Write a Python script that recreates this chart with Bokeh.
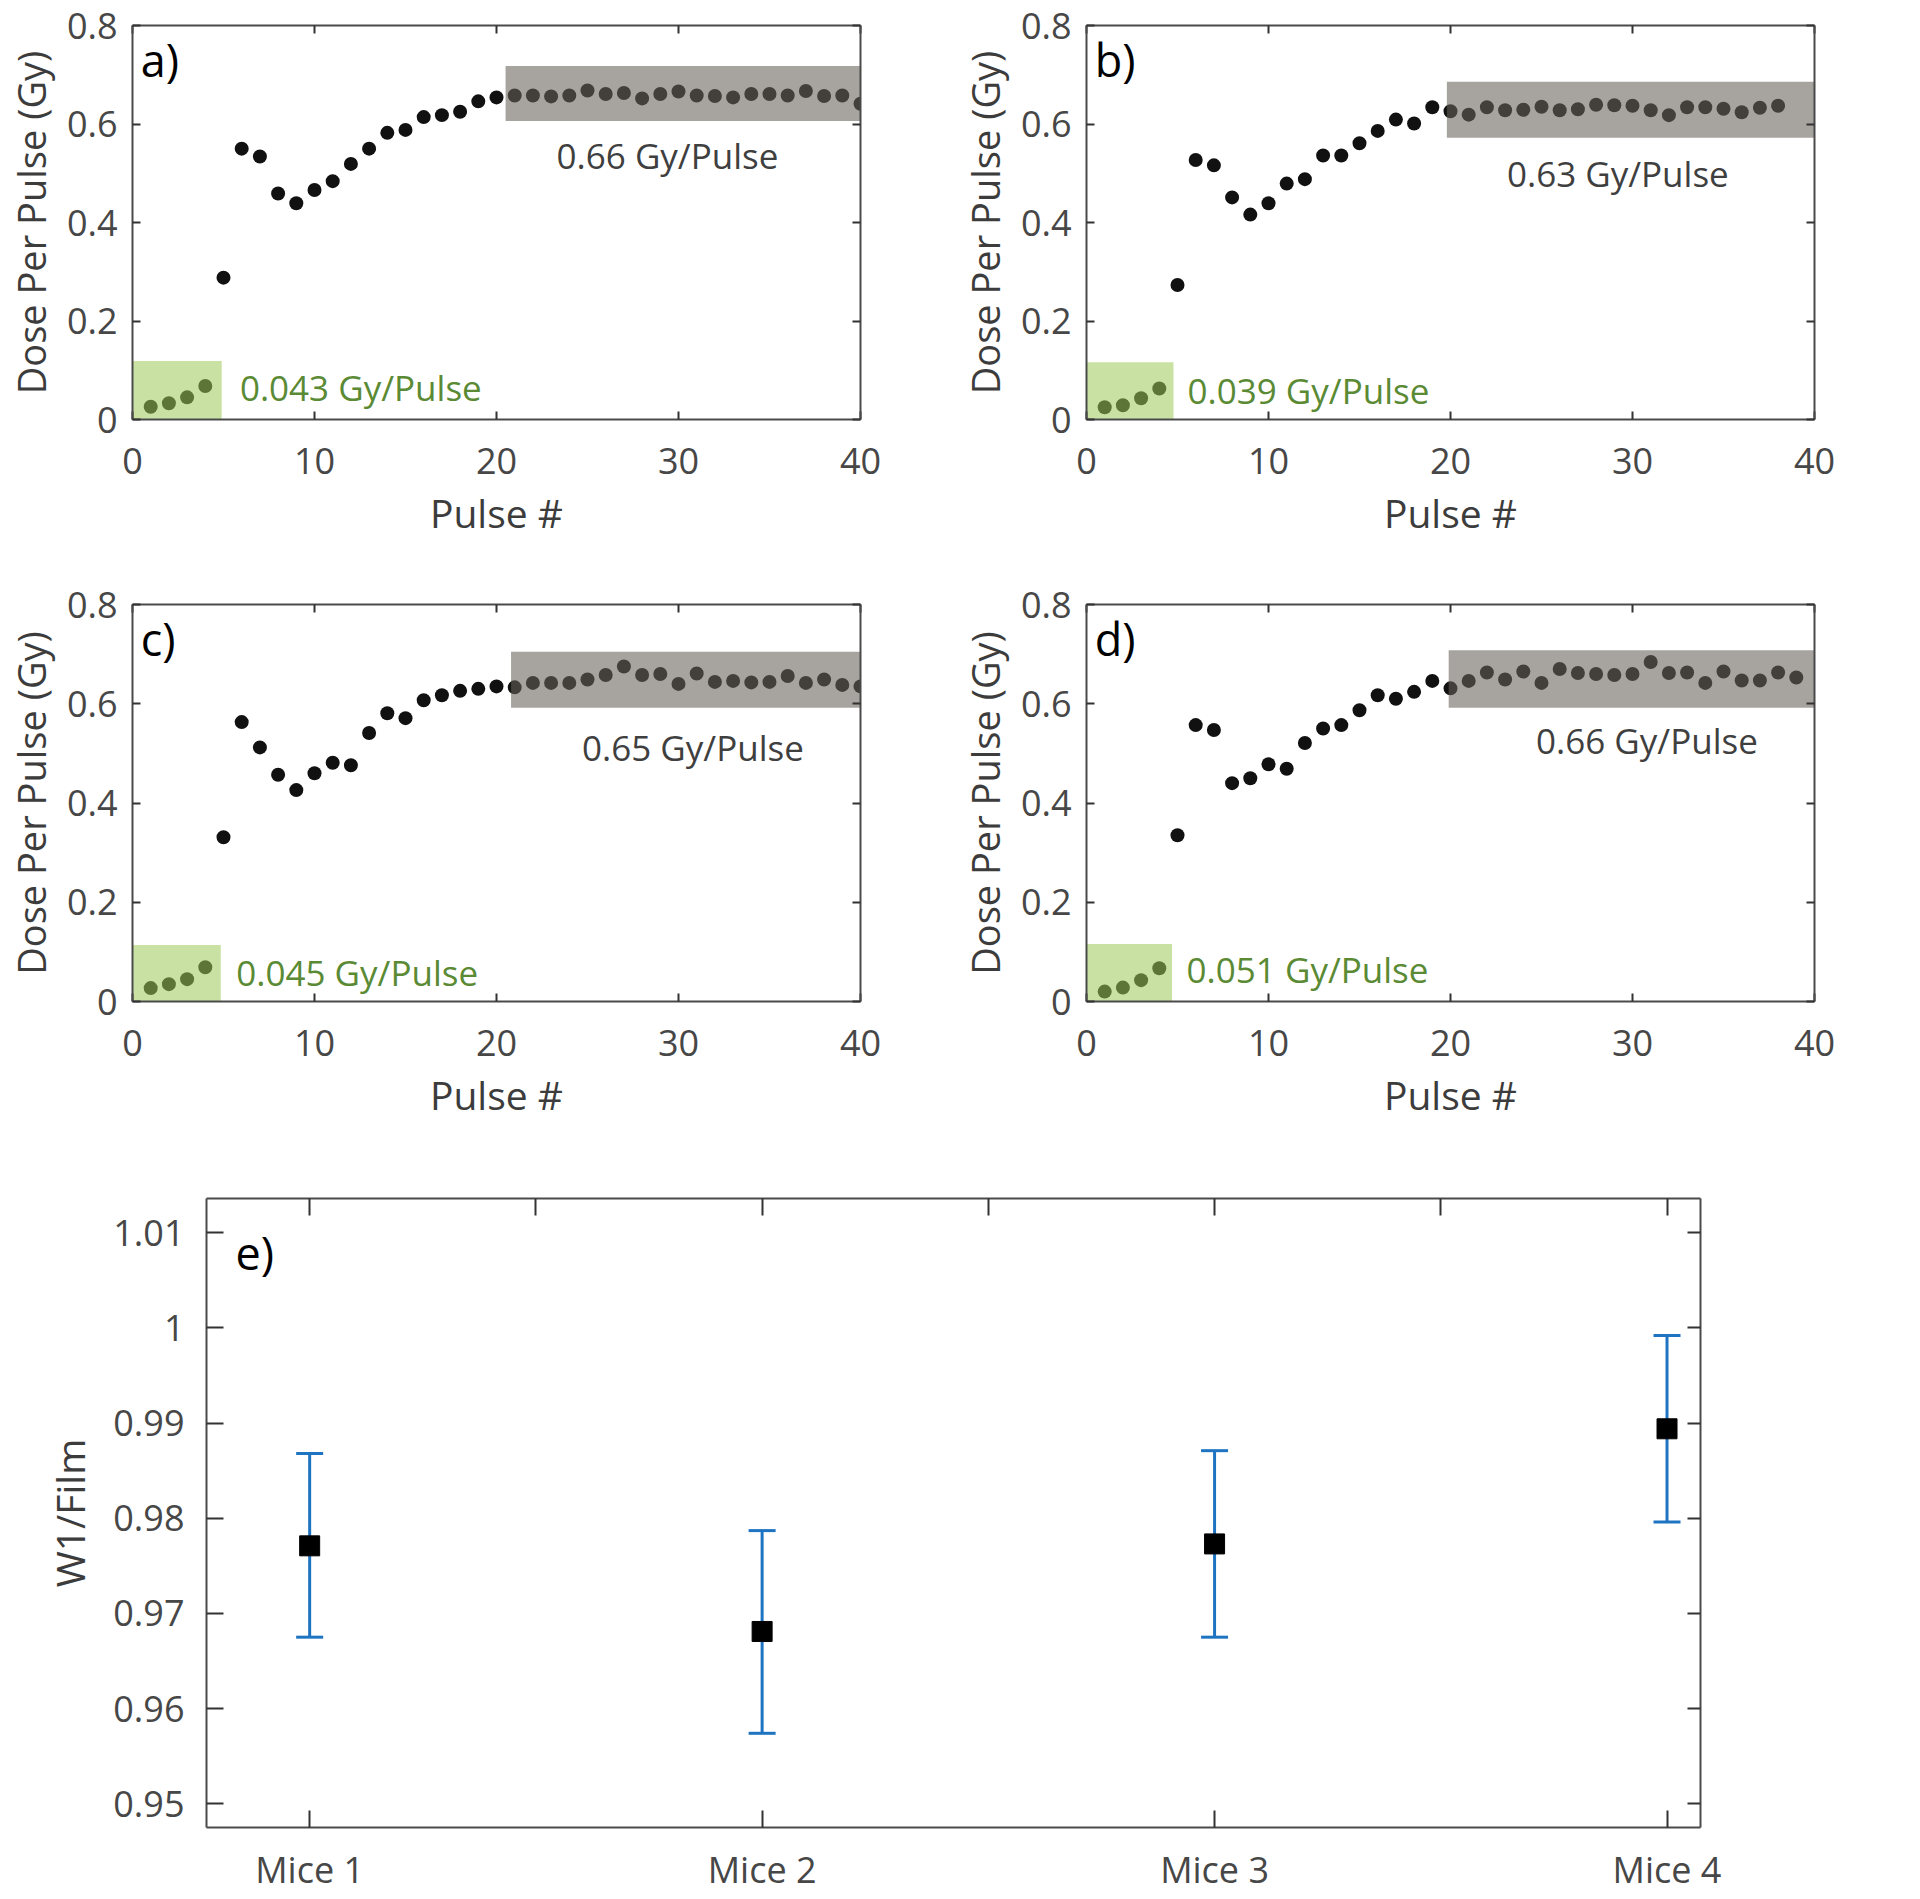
from bokeh.plotting import figure
from bokeh.layouts import column, row
from bokeh.models import (LinearAxis, FixedTicker, CustomJSTickFormatter, Range1d,
                          ColumnDataSource, Whisker, TeeHead, Label)
from bokeh.embed import file_html
from bokeh.resources import INLINE

FONT = "Open Sans"

# ---------------- data ----------------
dose_a = [0.026, 0.033, 0.045, 0.068, 0.288, 0.550, 0.534, 0.459, 0.439, 0.466,
          0.484, 0.519, 0.550, 0.582, 0.588, 0.614, 0.618, 0.625, 0.646, 0.654,
          0.658, 0.658, 0.656, 0.658, 0.668, 0.661, 0.663, 0.652, 0.661, 0.666,
          0.658, 0.657, 0.654, 0.661, 0.661, 0.658, 0.667, 0.657, 0.658, 0.641]
dose_b = [0.025, 0.029, 0.043, 0.063, 0.273, 0.527, 0.516, 0.451, 0.416, 0.439,
          0.479, 0.488, 0.536, 0.536, 0.561, 0.586, 0.609, 0.601, 0.634, 0.626,
          0.619, 0.634, 0.628, 0.629, 0.635, 0.628, 0.630, 0.639, 0.638, 0.637,
          0.628, 0.618, 0.634, 0.634, 0.631, 0.624, 0.633, 0.637]
dose_c = [0.027, 0.035, 0.045, 0.069, 0.331, 0.563, 0.512, 0.457, 0.426, 0.460,
          0.481, 0.476, 0.541, 0.581, 0.571, 0.607, 0.617, 0.626, 0.630, 0.635,
          0.633, 0.642, 0.642, 0.642, 0.649, 0.658, 0.675, 0.658, 0.660, 0.640,
          0.661, 0.644, 0.646, 0.643, 0.644, 0.656, 0.642, 0.649, 0.638, 0.635]
dose_d = [0.020, 0.028, 0.043, 0.067, 0.335, 0.557, 0.547, 0.440, 0.450, 0.478,
          0.469, 0.521, 0.550, 0.557, 0.587, 0.617, 0.610, 0.624, 0.646, 0.631,
          0.646, 0.663, 0.649, 0.665, 0.642, 0.670, 0.662, 0.660, 0.658, 0.660,
          0.684, 0.662, 0.663, 0.642, 0.665, 0.647, 0.647, 0.663, 0.653]

# highlighted regions: [x0, x1, y0, y1]
green_a = [0, 4.9, 0, 0.119]
gray_a = [20.5, 40, 0.606, 0.718]
green_b = [0, 4.78, 0, 0.116]
gray_b = [19.8, 40, 0.572, 0.686]
green_c = [0, 4.85, 0, 0.114]
gray_c = [20.8, 40, 0.592, 0.705]
green_d = [0, 4.7, 0, 0.116]
gray_d = [19.9, 40.1, 0.592, 0.708]

low_text = ["0.043 Gy/Pulse", "0.039 Gy/Pulse", "0.045 Gy/Pulse", "0.051 Gy/Pulse"]
high_text = ["0.66 Gy/Pulse", "0.63 Gy/Pulse", "0.65 Gy/Pulse", "0.66 Gy/Pulse"]
panel_tags = ["a)", "b)", "c)", "d)"]

x_ticks = [0, 10, 20, 30, 40]
y_ticks = [0, 0.2, 0.4, 0.6, 0.8]

mice = ["Mice 1", "Mice 2", "Mice 3", "Mice 4"]
ratio = [0.9771, 0.9681, 0.9773, 0.9894]
ratio_lo = [0.9675, 0.9574, 0.9675, 0.9796]
ratio_hi = [0.9868, 0.9787, 0.9871, 0.9992]
e_y_ticks = [0.95, 0.96, 0.97, 0.98, 0.99, 1.00, 1.01]

# ---------------- styling helpers ----------------
FMT = CustomJSTickFormatter(code="""
let s = tick.toFixed(2);
s = s.replace(/0+$/, '');
s = s.replace(/\\.$/, '');
return s;
""")
BLANK = CustomJSTickFormatter(code="return '';")

AX_COLOR = "#4a4a4a"
TXT_COLOR = "#474747"


def style_axis(ax, ticks, tick_in, labels=True, standoff=14, fmt=None):
    ax.ticker = FixedTicker(ticks=ticks)
    ax.axis_line_color = AX_COLOR
    ax.axis_line_width = 2
    ax.major_tick_line_color = "#333333"
    ax.major_tick_line_width = 2
    ax.major_tick_in = tick_in
    ax.major_tick_out = 0
    ax.minor_tick_line_color = None
    if labels:
        if fmt is not None:
            ax.formatter = fmt
        ax.major_label_text_font = FONT
        ax.major_label_text_font_size = "36px"
        ax.major_label_text_color = TXT_COLOR
        ax.major_label_standoff = standoff
        ax.axis_label_text_font = FONT
        ax.axis_label_text_font_size = "39px"
        ax.axis_label_text_font_style = "normal"
        ax.axis_label_text_color = "#3c3c3c"
    else:
        ax.formatter = BLANK
        ax.major_label_text_font_size = "1px"
        ax.major_label_standoff = 0
        ax.axis_label = None


def dose_panel(dose, green, gray, low_txt, high_txt, tag, low_pos, high_pos,
               b_left, b_top, b_right, b_bottom, fheight):
    p = figure(frame_width=728, frame_height=fheight,
               x_range=Range1d(0, 40), y_range=Range1d(0, 0.8),
               output_backend="svg", toolbar_location=None,
               min_border_left=b_left, min_border_top=b_top,
               min_border_right=b_right, min_border_bottom=b_bottom,
               background_fill_color="white", border_fill_color="white")
    p.outline_line_color = None
    p.xgrid.visible = False
    p.ygrid.visible = False

    style_axis(p.xaxis[0], x_ticks, 8, standoff=28)
    style_axis(p.yaxis[0], y_ticks, 8, standoff=15, fmt=FMT)
    p.xaxis.axis_label = "Pulse #"
    p.yaxis.axis_label = "Dose Per Pulse (Gy)"
    p.yaxis.axis_label_text_font_size = "38px"
    p.xaxis.axis_label_standoff = 9
    p.yaxis.axis_label_standoff = 7

    top_ax = LinearAxis()
    style_axis(top_ax, x_ticks, 8, labels=False)
    p.add_layout(top_ax, "above")
    right_ax = LinearAxis()
    style_axis(right_ax, y_ticks, 8, labels=False)
    p.add_layout(right_ax, "right")

    pulses = list(range(1, len(dose) + 1))
    p.scatter(pulses, dose, size=14, color="#111111", line_color=None)

    p.quad(left=[green[0]], right=[green[1]], bottom=[green[2]], top=[green[3]],
           fill_color="#9ccb5a", fill_alpha=0.55, line_color=None)
    p.quad(left=[gray[0]], right=[gray[1]], bottom=[gray[2]], top=[gray[3]],
           fill_color="#68615a", fill_alpha=0.58, line_color=None)

    p.add_layout(Label(x=low_pos[0], y=low_pos[1], text=low_txt,
                       text_font=FONT, text_font_size="35px", text_color="#5b8a35",
                       text_align="left", text_baseline="middle"))
    p.add_layout(Label(x=high_pos[0], y=high_pos[1], text=high_txt,
                       text_font=FONT, text_font_size="35px", text_color="#3f3f3f",
                       text_align="left", text_baseline="middle"))
    p.add_layout(Label(x=0.45, y=0.792, text=tag,
                       text_font=FONT, text_font_size="45px", text_color="#000000",
                       text_align="left", text_baseline="top"))
    return p


pa = dose_panel(dose_a, green_a, gray_a, low_text[0], high_text[0], panel_tags[0],
                (5.9, 0.064), (23.3, 0.536), 132, 25, 30, 138, 394)
pb = dose_panel(dose_b, green_b, gray_b, low_text[1], high_text[1], panel_tags[1],
                (5.55, 0.059), (23.1, 0.499), 196, 25, 50, 138, 394)
pc = dose_panel(dose_c, green_c, gray_c, low_text[2], high_text[2], panel_tags[2],
                (5.7, 0.059), (24.7, 0.511), 132, 47, 30, 138, 397)
pd = dose_panel(dose_d, green_d, gray_d, low_text[3], high_text[3], panel_tags[3],
                (5.5, 0.064), (24.7, 0.526), 196, 47, 50, 138, 397)

# ---------------- panel e ----------------
pe = figure(frame_width=1494, frame_height=629,
            x_range=Range1d(0.772, 4.074), y_range=Range1d(0.9475, 1.0136),
            output_backend="svg", toolbar_location=None,
            min_border_left=206, min_border_top=59, min_border_right=40,
            min_border_bottom=64,
            background_fill_color="white", border_fill_color="white")
pe.outline_line_color = None
pe.xgrid.visible = False
pe.ygrid.visible = False

style_axis(pe.xaxis[0], [1, 2, 3, 4], 17, standoff=17)
pe.xaxis.major_label_overrides = {i + 1: m for i, m in enumerate(mice)}
style_axis(pe.yaxis[0], e_y_ticks, 17, standoff=22, fmt=FMT)
pe.yaxis.axis_label = "W1/Film"
pe.yaxis.axis_label_standoff = 14

top_e = LinearAxis()
style_axis(top_e, [1, 1.5, 2, 2.5, 3, 3.5, 4], 17, labels=False)
pe.add_layout(top_e, "above")
right_e = LinearAxis()
style_axis(right_e, e_y_ticks, 13, labels=False)
pe.add_layout(right_e, "right")

mice_x = [1, 2, 3, 4]
src = ColumnDataSource(dict(x=mice_x, y=ratio, lo=ratio_lo, hi=ratio_hi))
BLUE = "#1f74c2"
wh = Whisker(source=src, base="x", lower="lo", upper="hi",
             line_color=BLUE, line_width=3, level="underlay",
             lower_head=TeeHead(size=27, line_color=BLUE, line_width=3),
             upper_head=TeeHead(size=27, line_color=BLUE, line_width=3))
pe.add_layout(wh)
pe.scatter("x", "y", source=src, marker="square", size=20, color="#000000")

pe.add_layout(Label(x=0.836, y=1.0079, text="e)", text_font=FONT,
                    text_font_size="45px", text_color="#000000",
                    text_align="left", text_baseline="middle"))

layout = column(row(pa, pb), row(pc, pd), pe)
open("out.html", "w").write(file_html(layout, INLINE))
